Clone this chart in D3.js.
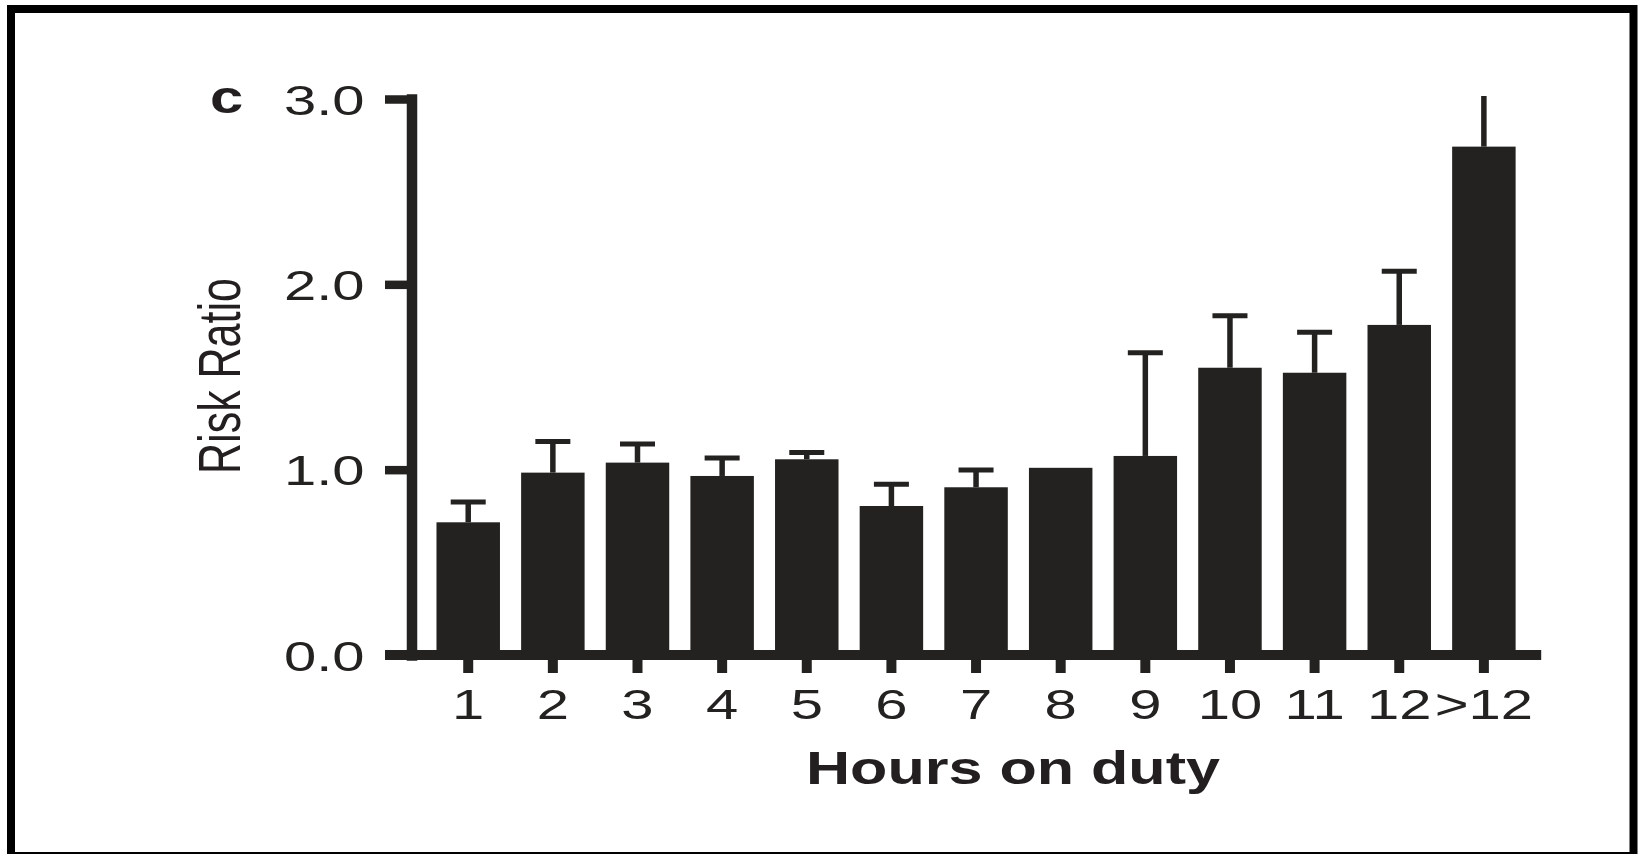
<!DOCTYPE html>
<html>
<head>
<meta charset="utf-8">
<script src="https://cdn.jsdelivr.net/npm/d3@7"></script>
<style>
  html, body { margin: 0; padding: 0; background: #fff; }
  svg { display: block; }
  text { font-family: "Liberation Sans", Arial, Helvetica, sans-serif; fill: #231f20; }
</style>
</head>
<body>
<svg id="chart" width="1644" height="854"></svg>
<script>
// values (panel c)
const categories = ["1", "2", "3", "4", "5", "6", "7", "8", "9", "10", "11", "12", ">12"];
const riskRatio  = [0.716, 0.984, 1.038, 0.966, 1.056, 0.804, 0.905, 1.01, 1.074, 1.55, 1.523, 1.781, 2.743];
const upperCI    = [0.826, 1.152, 1.138, 1.063, 1.093, 0.921, 0.998, null, 1.631, 1.83, 1.741, 2.07, 3.2];
const yTicks     = [0, 1, 2, 3];

const ink = "#232220",
      sx = 1.38;   // the figure's text is stretched sideways

let svg = d3.select("#chart");

// outer frame
svg.append("rect")
    .attr("x", 11).attr("y", 9)
    .attr("width", 1622.5).attr("height", 847)
    .attr("fill", "none")
    .attr("stroke", "#000")
    .attr("stroke-width", 8);

let x = d3.scaleBand()
    .domain(categories)
    .range([425.9, 1526.2])
    .paddingInner(0.25)
    .paddingOuter(0.125);

let y = d3.scaleLinear()
    .domain([0, 3])
    .range([655, 99]);

let axisX = 411.5,
    yTickLen = 26.5;

let data = categories.map(function(c, i) {
    return { cat: c, value: riskRatio[i], upper: upperCI[i] };
});

// bars
svg.append("g")
    .selectAll("rect")
    .data(data)
    .enter().append("rect")
    .attr("x", function(d) { return x(d.cat); })
    .attr("y", function(d) { return y(d.value); })
    .attr("width", x.bandwidth())
    .attr("height", function(d) { return y(0) - y(d.value); })
    .attr("fill", ink);

// error bars (upper only), clipped at the top of the axis
svg.append("clipPath")
    .attr("id", "plot-clip")
    .append("rect")
    .attr("x", 0).attr("y", y.range()[1] - 3)
    .attr("width", 1644).attr("height", y(0) - y.range()[1] + 3);

let eg = svg.append("g")
    .attr("clip-path", "url(#plot-clip)")
    .selectAll("g")
    .data(data.filter(function(d) { return d.upper != null; }))
    .enter().append("g")
    .attr("transform", function(d) { return "translate(" + (x(d.cat) + x.bandwidth() / 2) + ",0)"; });

eg.append("line")
    .attr("x1", 0).attr("x2", 0)
    .attr("y1", function(d) { return y(d.value); })
    .attr("y2", function(d) { return y(d.upper); })
    .attr("stroke", ink)
    .attr("stroke-width", 5.5);

eg.append("line")
    .attr("x1", -17.5).attr("x2", 17.5)
    .attr("y1", function(d) { return y(d.upper); })
    .attr("y2", function(d) { return y(d.upper); })
    .attr("stroke", ink)
    .attr("stroke-width", 5);

// y axis
let yAxis = svg.append("g")
    .attr("transform", "translate(" + axisX + ",0)")
    .call(d3.axisLeft(y)
          .tickValues(yTicks)
          .tickSize(yTickLen)
          .tickSizeOuter(0)
          .tickFormat(d3.format(".1f")));

yAxis.select(".domain")
    .attr("stroke", ink)
    .attr("stroke-width", 10.5)
    .attr("stroke-linecap", "square");

yAxis.selectAll(".tick line")
    .attr("stroke", ink)
    .attr("stroke-width", 8.5);

yAxis.selectAll(".tick text")
    .attr("x", null).attr("dy", null)
    .attr("text-anchor", "end")
    .attr("transform", "translate(-47,15) scale(" + sx + ",1)")
    .style("font-size", "42px")
    .style("fill", ink);

// x axis
let xAxis = svg.append("g")
    .attr("transform", "translate(0," + y(0) + ")")
    .call(d3.axisBottom(x)
          .tickSize(18)
          .tickSizeOuter(0));

xAxis.select(".domain").remove();

xAxis.append("line")
    .attr("x1", axisX - yTickLen)
    .attr("x2", x.range()[1] + 15)
    .attr("y1", 0).attr("y2", 0)
    .attr("stroke", ink)
    .attr("stroke-width", 10);

xAxis.selectAll(".tick line")
    .attr("stroke", ink)
    .attr("stroke-width", 10);

xAxis.selectAll(".tick text")
    .attr("y", null).attr("dy", null)
    .attr("text-anchor", "middle")
    .attr("transform", "translate(0,64) scale(" + sx + ",1)")
    .style("font-size", "42px")
    .style("fill", ink);

// axis titles
svg.append("text")
    .attr("x", 806).attr("y", 784)
    .attr("textLength", 414)
    .attr("lengthAdjust", "spacingAndGlyphs")
    .style("font-size", "46px")
    .style("font-weight", "bold")
    .text("Hours on duty");

svg.append("text")
    .attr("text-anchor", "middle")
    .attr("transform", "translate(240,376) scale(" + sx + ",1) rotate(-90)")
    .style("font-size", "43px")
    .text("Risk Ratio");

// panel letter
svg.append("text")
    .attr("x", 0).attr("y", 0)
    .attr("transform", "translate(210,113) scale(1.3,1)")
    .style("font-size", "46px")
    .style("font-weight", "bold")
    .text("c");
</script>
</body>
</html>
